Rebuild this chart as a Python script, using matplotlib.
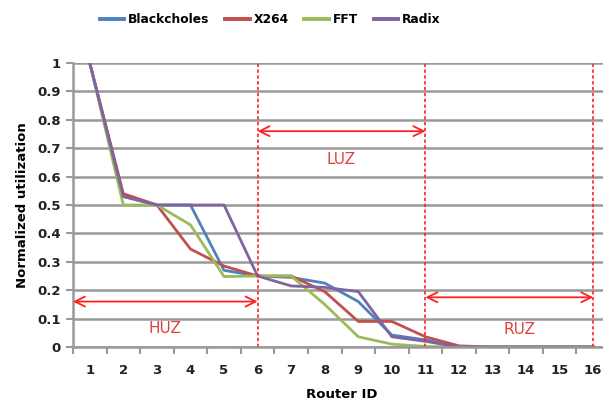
import numpy as np
import matplotlib
matplotlib.use('Agg')
import matplotlib.pyplot as plt

routers = np.arange(1, 17)
blackcholes = [1.0, 0.53, 0.50, 0.50, 0.27, 0.25, 0.245, 0.225, 0.16, 0.042, 0.025, 0.0, 0.0, 0.0, 0.0, 0.0]
x264 = [1.0, 0.54, 0.50, 0.345, 0.285, 0.25, 0.25, 0.195, 0.09, 0.09, 0.036, 0.004, 0.0, 0.0, 0.0, 0.0]
fft = [1.0, 0.50, 0.50, 0.43, 0.248, 0.25, 0.25, 0.15, 0.036, 0.01, 0.002, 0.0, 0.0, 0.0, 0.0, 0.0]
radix = [1.0, 0.53, 0.50, 0.50, 0.50, 0.25, 0.215, 0.21, 0.195, 0.036, 0.02, 0.0, 0.0, 0.0, 0.0, 0.0]

series = [('Blackcholes', blackcholes, '#4F81BD'),
          ('X264', x264, '#C0504D'),
          ('FFT', fft, '#9BBB59'),
          ('Radix', radix, '#8064A2')]

zone_bounds = [6, 11, 16]
zones = [('HUZ', 0.5, 6, 0.16, 0.065), ('LUZ', 6, 11, 0.76, 0.66), ('RUZ', 11, 16, 0.175, 0.06)]

fig = plt.figure(figsize=(6.03, 4.15), dpi=100)
ax = fig.add_axes([73/603, 68/415, 537/603, 284/415])

for name, vals, col in series:
    ax.plot(routers, vals, color=col, lw=2.0, label=name)

zc = '#FF2020'
for b in zone_bounds:
    ax.axvline(b, color=zc, ls=(0, (2, 1.5)), lw=1.2)
for lab, x0, x1, ya, yt in zones:
    ax.annotate('', xy=(x0, ya), xytext=(x1, ya),
                arrowprops=dict(arrowstyle='<->', color=zc, lw=1.3, mutation_scale=18, shrinkA=0, shrinkB=0))
    ax.text((x0 + x1) / 2 + (0.3 if lab == 'RUZ' else 0), yt, lab, color='#E04040', fontsize=11,
            ha='center', va='center')

ax.set_xlim(0.5, 16.5)
ax.set_ylim(0, 1)
ax.set_yticks(np.arange(0, 1.01, 0.1))
ax.set_yticklabels(['0'] + ['%.1f' % v for v in np.arange(0.1, 0.95, 0.1)] + ['1'])
ax.set_xticks(routers)
ax.set_xticklabels([str(r) for r in routers])
ax.set_xticks(np.arange(0.5, 17, 1), minor=True)
ax.tick_params(axis='x', which='major', length=0, pad=12)
ax.tick_params(axis='x', which='minor', length=5, width=1.5, color='#999999')
ax.tick_params(axis='y', length=5, width=1.5, color='#999999', pad=4)
for lbl in ax.get_xticklabels() + ax.get_yticklabels():
    lbl.set_fontweight('bold')
    lbl.set_fontsize(9.5)
    lbl.set_color('#222222')

ax.grid(axis='y', color='#999999', lw=1.8)
ax.set_axisbelow(True)
for s in ['top', 'right']:
    ax.spines[s].set_visible(False)
for s in ['left', 'bottom']:
    ax.spines[s].set_color('#999999')
    ax.spines[s].set_linewidth(1.8)

ax.set_xlabel('Router ID', fontsize=9.5, fontweight='bold', labelpad=8)
ax.set_ylabel('Normalized utilization', fontsize=9.5, fontweight='bold', labelpad=6)

leg = fig.legend(loc='upper center', bbox_to_anchor=(270/603, 0.995), ncol=4, frameon=False,
                 handlelength=2.0, handletextpad=0.3, columnspacing=1.3,
                 prop={'weight': 'bold', 'size': 8.8})
for h in leg.get_lines():
    h.set_linewidth(2.8)

fig.savefig('out.png', dpi=100)
